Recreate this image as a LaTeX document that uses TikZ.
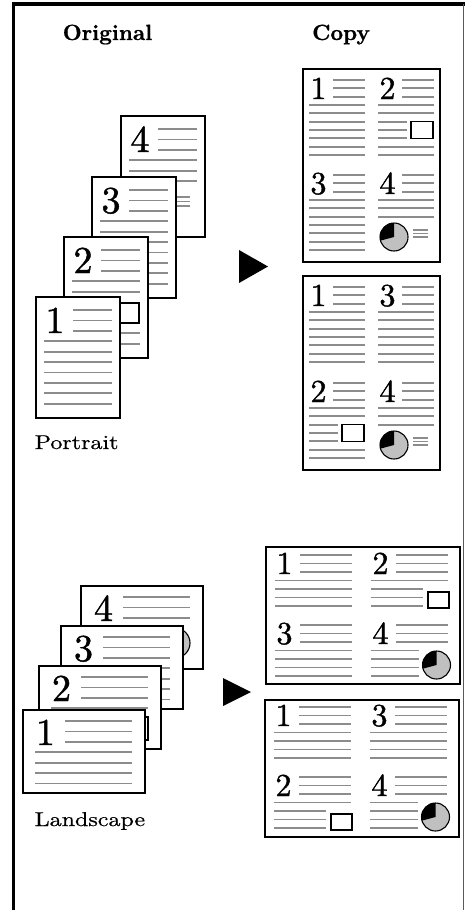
\documentclass[tikz,border=0pt]{standalone}
\usepackage{fontspec}
\newfontfamily\digfont{lmroman10-regular.otf}[FakeBold=1.2]
\newfontfamily\txtfont{lmroman10-regular.otf}[FakeBold=0.6]
\newfontfamily\headfont{lmroman10-bold.otf}[FakeBold=0.8]
\definecolor{linegray}{RGB}{140,140,140}
\definecolor{piegray}{RGB}{192,192,192}
\definecolor{framegray}{RGB}{90,90,90}
\tikzset{
  gl/.style={draw=linegray, line width=1.8pt},
  tinyl/.style={draw=linegray, line width=1.2pt},
  opage/.style={draw=black, fill=white, line width=2.4pt, anchor=north west, inner sep=0pt, outer sep=0pt},
  cpage/.style={draw=black, fill=white, line width=2.2pt, anchor=north west, inner sep=0pt, outer sep=0pt},
  imgbox/.style={draw=black, fill=white, line width=1.1pt},
  bigdig/.style={font=\digfont\fontsize{38}{38}\selectfont, anchor=base, inner sep=0pt},
  smdig/.style={font=\digfont\fontsize{32}{32}\selectfont, anchor=base, inner sep=0pt},
  headtext/.style={font=\headfont\fontsize{22}{24}\selectfont, anchor=base, inner sep=0pt},
  labeltext/.style={font=\txtfont\fontsize{20}{22}\selectfont, anchor=base west, inner sep=0pt},
}
\newcommand{\PieChart}[3]{%
  \fill[piegray] ({#1},{#2}) circle[radius=#3pt];
  \fill[black] ({#1},{#2}) -- ++(90:#3pt) arc[start angle=90,end angle=195,radius=#3pt] -- cycle;
  \draw[line width=1.1pt] ({#1},{#2}) circle[radius=#3pt];
}
% original portrait page
\newcommand{\OPage}[4]{%
  \node[opage, minimum width=84pt, minimum height=121pt] (#1) at (#2,#3) {};
  \node[bigdig] (#1n) at ({#2+19},{#3+36}) {#4};
  \foreach \k in {0,1,2}{\draw[gl] ({#2+37},{#3+13+10.4*\k}) -- ({#2+76},{#3+13+10.4*\k});}
}
\newcommand{\OPLong}[3]{\foreach \k in {#3}{\draw[gl] ({#1+8},{#2+13+10.4*\k}) -- ({#1+76},{#2+13+10.4*\k});}}
% original landscape page
\newcommand{\OLPage}[4]{%
  \node[opage, minimum width=122pt, minimum height=83pt] (#1) at (#2,#3) {};
  \node[bigdig] (#1n) at ({#2+22.5},{#3+35}) {#4};
  \foreach \k in {0,1,2}{\draw[gl] ({#2+42},{#3+11+10.4*\k}) -- ({#2+109},{#3+11+10.4*\k});}
}
\newcommand{\OLLong}[3]{\foreach \k in {#3}{\draw[gl] ({#1+12},{#2+11+10.4*\k}) -- ({#1+109},{#2+11+10.4*\k});}}
% copy portrait quadrants
\newcommand{\CPQ}[4]{%
  \node[smdig] (#1) at ({#2+9.5},{#3+19}) {#4};
  \foreach \k in {0,1,2}{\draw[gl] ({#2+24},{#3+8.33*\k}) -- ({#2+56},{#3+8.33*\k});}
}
\newcommand{\CPLong}[3]{\foreach \k in {#3}{\draw[gl] ({#1},{#2+8.33*\k}) -- ({#1+56},{#2+8.33*\k});}}
\newcommand{\CPImg}[2]{%
  \CPLong{#1}{#2}{3,4,8,9}
  \foreach \k in {5,6,7}{\draw[gl] ({#1},{#2+8.33*\k}) -- ({#1+29},{#2+8.33*\k});}
  \draw[imgbox] ({#1+33},{#2+41.7}) rectangle ({#1+55},{#2+58.3});
}
\newcommand{\CPPie}[2]{%
  \CPLong{#1}{#2}{3,4,5}
  \PieChart{#1+16}{#2+62}{14}
  \foreach \d in {55,58.5,62}{\draw[tinyl] ({#1+35},{#2+\d}) -- ({#1+50},{#2+\d});}
}
% copy landscape quadrants
\newcommand{\CLQ}[4]{%
  \node[smdig] (#1) at ({#2+9.5},{#3+19}) {#4};
  \foreach \k in {0,1,2}{\draw[gl] ({#2+25},{#3+8.5*\k}) -- ({#2+77},{#3+8.5*\k});}
}
\newcommand{\CLLong}[3]{\foreach \k in {#3}{\draw[gl] ({#1},{#2+8.5*\k}) -- ({#1+77},{#2+8.5*\k});}}
\newcommand{\CLImg}[2]{%
  \CLLong{#1}{#2}{3}
  \foreach \k in {4,5,6}{\draw[gl] ({#1},{#2+8.5*\k}) -- ({#1+52},{#2+8.5*\k});}
  \draw[imgbox] ({#1+57},{#2+37}) rectangle ({#1+78},{#2+53});
}
\newcommand{\CLPie}[2]{%
  \foreach \k in {3,4,5,6}{\draw[gl] ({#1},{#2+8.5*\k}) -- ({#1+48},{#2+8.5*\k});}
  \PieChart{#1+65.5}{#2+40}{14}
}
\begin{document}
\begin{tikzpicture}[x=1pt,y=-1pt]
\useasboundingbox (0,0) rectangle (465,910);
% frame
\draw[line width=3.5pt] (13.5,912) -- (13.5,4) -- (467,4);
\draw[framegray, line width=1pt] (463,4) -- (463,912);
% headings
\node[headtext] (horig) at (107.5,40) {Original};
\node[headtext] (hcopy) at (341,40) {Copy};

% ---- original portrait stack
\OPage{op4}{121}{116}{4}
\OPLong{121}{116}{3,4,5}
\PieChart{148}{206}{17}
\foreach \d in {197,201.5,206}{\draw[tinyl] (177,\d) -- (190,\d);}
\OPage{op3}{92}{177}{3}
\OPLong{92}{177}{3,4,5,6,7,8,9}
\OPage{op2}{64}{237}{2}
\OPLong{64}{237}{3,4,8,9}
\foreach \k in {5,6,7}{\draw[gl] (72,{250+10.4*\k}) -- (115,{250+10.4*\k});}
\draw[imgbox] (120,303) rectangle (139,323);
\OPage{op1}{36}{297}{1}
\OPLong{36}{297}{3,4,5,6,7,8,9}
\node[labeltext] (lport) at (34.5,449) {\scalebox{1.2}[1]{Portrait}};

% arrow portrait
\coordinate (ta1) at (239,250);
\coordinate (ta2) at (268,266.5);
\coordinate (ta3) at (239,283);
\fill (ta1) -- (ta2) -- (ta3) -- cycle;

% ---- copy portrait 1
\node[cpage, minimum width=137pt, minimum height=193pt] (cp1) at (303,69) {};
\CPQ{cp1a}{309}{80}{1}\CPLong{309}{80}{3,4,5,6,7,8,9}
\CPQ{cp1b}{378}{80}{2}\CPImg{378}{80}
\CPQ{cp1c}{309}{175}{3}\CPLong{309}{175}{3,4,5,6,7,8,9}
\CPQ{cp1d}{378}{175}{4}\CPPie{378}{175}
% ---- copy portrait 2
\node[cpage, minimum width=137pt, minimum height=194pt] (cp2) at (303,276) {};
\CPQ{cp2a}{309}{287}{1}\CPLong{309}{287}{3,4,5,6,7,8,9}
\CPQ{cp2b}{378}{287}{3}\CPLong{378}{287}{3,4,5,6,7,8,9}
\CPQ{cp2c}{309}{383}{2}\CPImg{309}{383}
\CPQ{cp2d}{378}{383}{4}\CPPie{378}{383}

% ---- original landscape stack
\OLPage{ol4}{81}{586}{4}
\foreach \k in {3,4,5,6}{\draw[gl] (93,{597+10.4*\k}) -- (153,{597+10.4*\k});}
\PieChart{175}{643}{15}
\OLPage{ol3}{61}{626}{3}
\OLLong{61}{626}{3,4,5,6}
\OLPage{ol2}{39}{666}{2}
\OLLong{39}{666}{3}
\foreach \k in {4,5,6}{\draw[gl] (51,{677+10.4*\k}) -- (116,{677+10.4*\k});}
\draw[imgbox] (125,717) rectangle (148,740);
\OLPage{ol1}{23}{710}{1}
\OLLong{23}{710}{3,4,5,6}
\node[labeltext] (lland) at (34.5,826) {\scalebox{1.2}[1]{Landscape}};

% arrow landscape
\coordinate (tb1) at (223,678);
\coordinate (tb2) at (251,692);
\coordinate (tb3) at (223,706);
\fill (tb1) -- (tb2) -- (tb3) -- cycle;

% ---- copy landscape 1
\node[cpage, minimum width=194pt, minimum height=137pt] (cl1) at (266,547) {};
\CLQ{cl1a}{275}{555}{1}\CLLong{275}{555}{3,4,5,6}
\CLQ{cl1b}{371}{555}{2}\CLImg{371}{555}
\CLQ{cl1c}{275}{625}{3}\CLLong{275}{625}{3,4,5,6}
\CLQ{cl1d}{371}{625}{4}\CLPie{371}{625}
% ---- copy landscape 2
\node[cpage, minimum width=194pt, minimum height=137pt] (cl2) at (265,700) {};
\CLQ{cl2a}{274}{707}{1}\CLLong{274}{707}{3,4,5,6}
\CLQ{cl2b}{370}{707}{3}\CLLong{370}{707}{3,4,5,6}
\CLQ{cl2c}{274}{777}{2}\CLImg{274}{777}
\CLQ{cl2d}{370}{777}{4}\CLPie{370}{777}
\end{tikzpicture}
\end{document}
